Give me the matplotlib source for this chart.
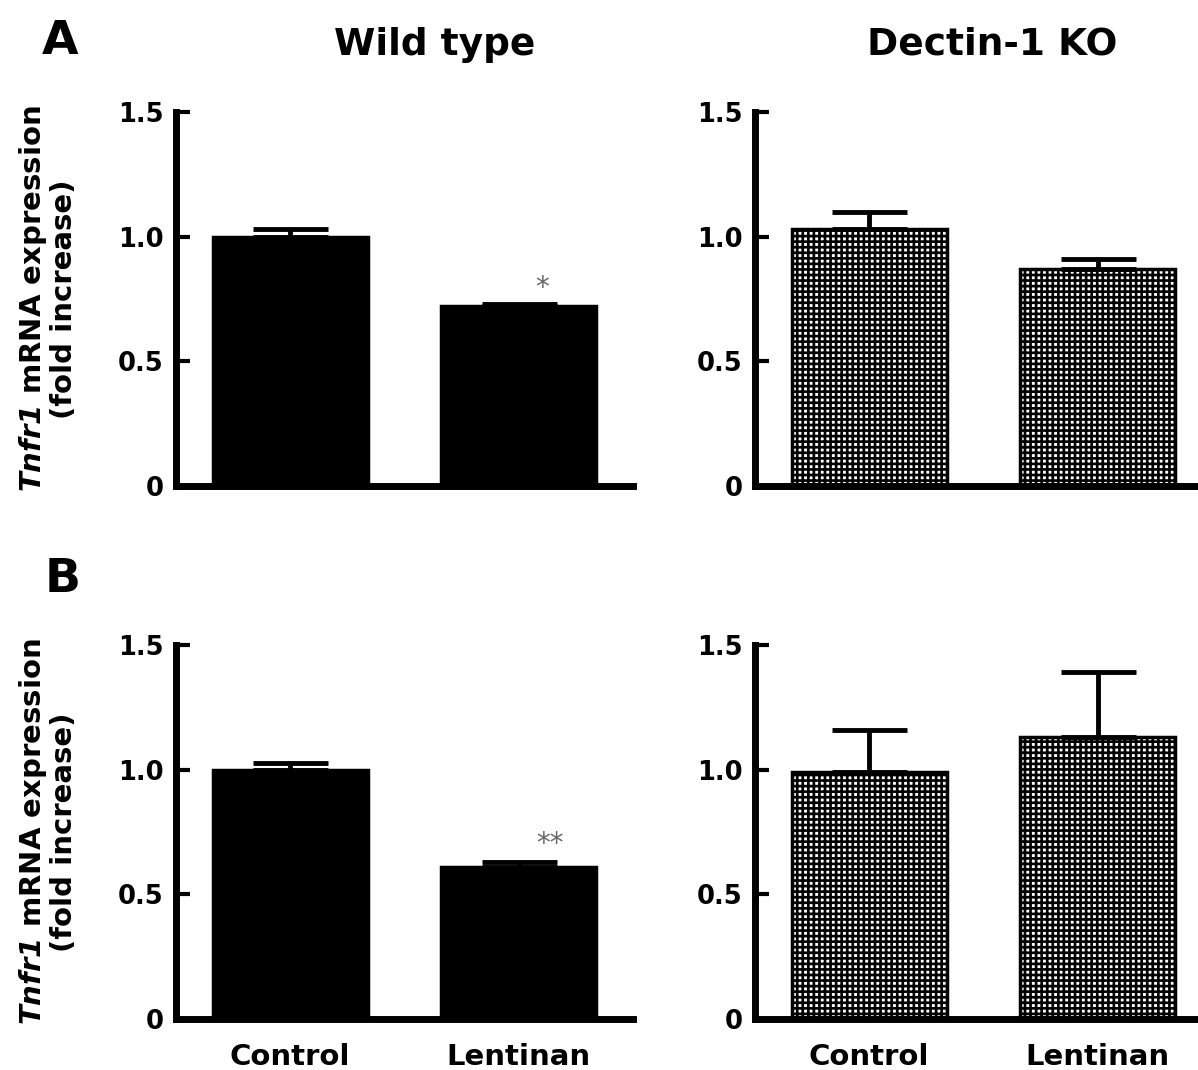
#%% libs
import matplotlib
matplotlib.use('Agg')
import matplotlib.pyplot as plt

#%% data
groups = ['Control', 'Lentinan']
a_wt_mean = [1.00, 0.72]
a_wt_err = [0.03, 0.01]
a_ko_mean = [1.03, 0.87]
a_ko_err = [0.07, 0.04]
b_wt_mean = [1.00, 0.61]
b_wt_err = [0.025, 0.02]
b_ko_mean = [0.99, 1.13]
b_ko_err = [0.17, 0.26]
y_ticks = [0, 0.5, 1.0, 1.5]
y_tick_labels = ['0', '0.5', '1.0', '1.5']
stars = {'A': '*', 'B': '**'}

#%% style
plt.rcParams['font.family'] = ['DejaVu Sans']
plt.rcParams['font.weight'] = 'bold'
plt.rcParams['mathtext.fontset'] = 'custom'
plt.rcParams['mathtext.it'] = 'DejaVu Sans:italic:bold'
plt.rcParams['mathtext.rm'] = 'DejaVu Sans:italic:bold'
plt.rcParams['hatch.linewidth'] = 1.9

fig = plt.figure(figsize=(11.98, 10.70), dpi=100)

# axes boxes in figure fraction: [left, bottom, width, height]
boxes = {'A_wt': [0.1469, 0.5458, 0.3815, 0.3495],
         'A_ko': [0.6302, 0.5458, 0.3815, 0.3495],
         'B_wt': [0.1469, 0.0477, 0.3815, 0.3495],
         'B_ko': [0.6302, 0.0477, 0.3815, 0.3495]}
panels = {'A_wt': (a_wt_mean, a_wt_err),
          'A_ko': (a_ko_mean, a_ko_err),
          'B_wt': (b_wt_mean, b_wt_err),
          'B_ko': (b_ko_mean, b_ko_err)}

x = list(range(len(groups)))
for key, (mean, err) in panels.items():
    ax = fig.add_axes(boxes[key])
    if key.endswith('wt'):
        ax.bar(x, mean, width=0.68, color='black', edgecolor='black',
               linewidth=2.5, zorder=2)
    else:
        ax.bar(x, mean, width=0.68, color='white', edgecolor='black',
               hatch='+++', linewidth=2.5, zorder=2)
    ax.errorbar(x, mean, yerr=[[0] * len(err), err], fmt='none',
                ecolor='black', elinewidth=3.5, capsize=27, capthick=3.5,
                zorder=3)

    ax.set_xlim(-0.5, 1.5)
    ax.set_ylim(0, 1.5)
    ax.set_yticks(y_ticks)
    ax.set_yticklabels(y_tick_labels, fontsize=18.5, fontweight='bold')
    ax.set_xticks(x)
    if key.startswith('B'):
        ax.set_xticklabels(groups, fontsize=21, fontweight='bold')
    else:
        ax.set_xticklabels([])
    ax.tick_params(axis='x', length=0, pad=17)
    ax.tick_params(axis='y', direction='in', length=10, width=3, pad=9)
    for side in ['top', 'right']:
        ax.spines[side].set_visible(False)
    for side in ['left', 'bottom']:
        ax.spines[side].set_linewidth(5)
        ax.spines[side].set_capstyle('projecting')

    if key.endswith('wt'):
        ax.set_ylabel('$\\mathit{Tnfr1}$ mRNA expression\n(fold increase)',
                      fontsize=21, fontweight='bold', linespacing=1.05)
        ax.yaxis.set_label_coords(-0.214, 0.5)
        s = stars[key[0]]
        ax.text(1.10 if s == '*' else 1.137,
                mean[1] + err[1] + (0.065 if s == '*' else 0.07),
                s, ha='center', va='center', fontsize=20, color='0.4',
                fontweight='normal')

#%% titles and panel letters
fig.text(0.363, 0.958, 'Wild type', ha='center', va='center',
         fontsize=27, fontweight='bold')
fig.text(0.828, 0.958, 'Dectin-1 KO', ha='center', va='center',
         fontsize=27, fontweight='bold')
fig.text(0.050, 0.961, 'A', ha='center', va='center',
         fontsize=34, fontweight='bold')
fig.text(0.052, 0.458, 'B', ha='center', va='center',
         fontsize=34, fontweight='bold')

fig.savefig('out.png', dpi=100)
